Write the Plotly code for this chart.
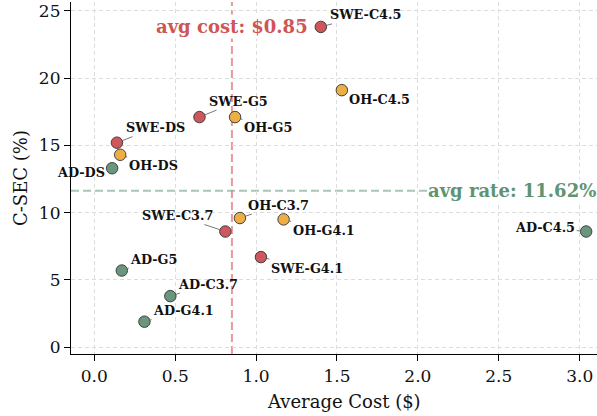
import plotly.graph_objects as go

# ---- data ----
swe_labels = ["SWE-C4.5", "SWE-G5", "SWE-DS", "SWE-C3.7", "SWE-G4.1"]
swe_cost = [1.40, 0.65, 0.14, 0.81, 1.03]
swe_rate = [23.8, 17.1, 15.2, 8.6, 6.7]

oh_labels = ["OH-C4.5", "OH-G5", "OH-DS", "OH-C3.7", "OH-G4.1"]
oh_cost = [1.53, 0.87, 0.16, 0.90, 1.17]
oh_rate = [19.1, 17.1, 14.3, 9.6, 9.5]

ad_labels = ["AD-C4.5", "AD-DS", "AD-G5", "AD-C3.7", "AD-G4.1"]
ad_cost = [3.04, 0.11, 0.17, 0.47, 0.31]
ad_rate = [8.6, 13.3, 5.7, 3.8, 1.9]

x_ticks = [0.0, 0.5, 1.0, 1.5, 2.0, 2.5, 3.0]
y_ticks = [0, 5, 10, 15, 20, 25]

# label placement offsets (pixels, text centre relative to marker)
label_offsets = {
    "SWE-C4.5": (45, -12), "OH-C4.5": (38, 9), "SWE-G5": (39, -16),
    "OH-G5": (33, 10), "SWE-DS": (39, -15), "OH-DS": (33, 11),
    "AD-DS": (-31, 4), "SWE-C3.7": (-48, -16), "OH-C3.7": (39, -13),
    "OH-G4.1": (40, 11), "AD-C4.5": (-41, -4), "SWE-G4.1": (46, 11),
    "AD-G5": (32, -11), "AD-C3.7": (38, -12), "AD-G4.1": (39, -11),
}

FONT = "DejaVu Serif"
red, orange, green = "#CD575C", "#EBAF45", "#69967D"

all_cost = swe_cost + oh_cost + ad_cost
all_rate = swe_rate + oh_rate + ad_rate
avg_cost = sum(all_cost) / len(all_cost)
avg_rate = sum(all_rate) / len(all_rate)

fig = go.Figure()
for labels, xs, ys, col in [(swe_labels, swe_cost, swe_rate, red),
                            (oh_labels, oh_cost, oh_rate, orange),
                            (ad_labels, ad_cost, ad_rate, green)]:
    fig.add_trace(go.Scatter(
        x=xs, y=ys, mode="markers", text=labels, showlegend=False,
        marker=dict(size=11.5, color=col, line=dict(color="#333333", width=0.9)),
    ))

annotations = []
for labels, xs, ys in [(swe_labels, swe_cost, swe_rate),
                       (oh_labels, oh_cost, oh_rate),
                       (ad_labels, ad_cost, ad_rate)]:
    for lab, xv, yv in zip(labels, xs, ys):
        dx, dy = label_offsets[lab]
        annotations.append(dict(
            x=xv, y=yv, text=lab, showarrow=True, ax=dx, ay=dy,
            arrowhead=0, arrowwidth=0.8, arrowcolor="#555555", standoff=6,
            font=dict(family=FONT, size=12.8, color="#111111", weight="bold"),
        ))

annotations.append(dict(
    x=avg_cost, y=max(all_rate), text=f"avg cost: ${avg_cost:.2f}", showarrow=False,
    xanchor="center", yanchor="middle", bgcolor="white",
    font=dict(family=FONT, size=18, color="#D05555", weight="bold"),
))
annotations.append(dict(
    x=1.0, xref="paper", y=avg_rate, text=f"avg rate: {avg_rate:.2f}%", showarrow=False,
    xanchor="right", yanchor="middle", bgcolor="white", borderpad=0,
    font=dict(family=FONT, size=18, color="#5E9474", weight="bold"),
))
# x-axis title (centred on the full, partly cropped axes of the original)
annotations.append(dict(
    x=0.519, xref="paper", y=0, yref="paper", yshift=-47, text="Average Cost ($)",
    showarrow=False, xanchor="center", yanchor="middle",
    font=dict(family=FONT, size=18, color="#111111"),
))

shapes = [
    dict(type="line", xref="x", yref="paper", x0=avg_cost, x1=avg_cost, y0=0, y1=1,
         line=dict(color="rgba(222,110,110,0.7)", width=2, dash="8px,4px"), layer="below"),
    dict(type="line", xref="paper", yref="y", x0=0, x1=1, y0=avg_rate, y1=avg_rate,
         line=dict(color="rgba(120,170,140,0.65)", width=2, dash="8px,4px"), layer="below"),
]

fig.update_layout(
    width=597, height=416,
    margin=dict(l=71, r=0, t=2, b=62),
    plot_bgcolor="white", paper_bgcolor="white",
    font=dict(family=FONT, size=17, color="#111111"),
    annotations=annotations, shapes=shapes,
)
fig.update_xaxes(
    range=[-0.144, 3.107], tickvals=x_ticks, ticktext=[f"{v:.1f}" for v in x_ticks],
    showline=True, linecolor="black", linewidth=1.2, mirror=False,
    ticks="outside", ticklen=6, tickwidth=1.1, tickcolor="black",
    showgrid=True, gridcolor="#dddddd", gridwidth=0.9, griddash="4px,3px",
    zeroline=False,
)
fig.update_yaxes(
    range=[-0.5, 25.65], tickvals=y_ticks,
    showline=True, linecolor="black", linewidth=1.2, mirror=False,
    ticks="outside", ticklen=6, tickwidth=1.1, tickcolor="black",
    showgrid=True, gridcolor="#dddddd", gridwidth=0.9, griddash="4px,3px",
    zeroline=False, title=dict(text="C-SEC (%)", font=dict(size=18), standoff=6),
)

fig.write_html("out.html", config={"displayModeBar": False},
               post_script="document.body.style.margin='0';")
